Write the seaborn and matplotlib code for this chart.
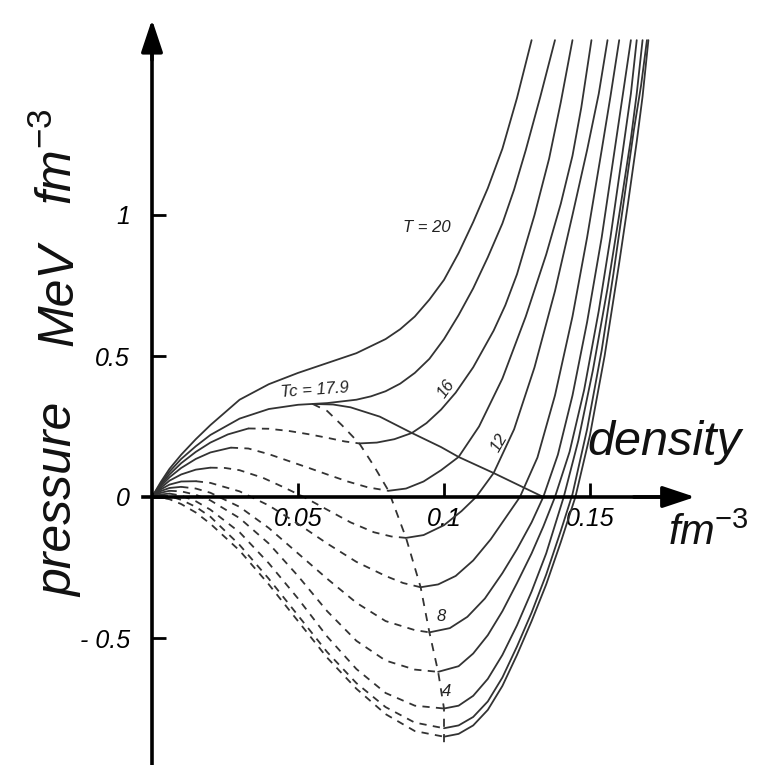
import matplotlib
matplotlib.use("Agg")
import matplotlib.pyplot as plt
import pandas as pd
import seaborn as sns

# ---------------- data (density fm^-3, pressure MeV fm^-3) ----------------
rho_T20 = [0, 0.003, 0.006, 0.01, 0.015, 0.02, 0.03, 0.04, 0.05, 0.06, 0.07, 0.08, 0.085, 0.09, 0.095, 0.10, 0.105, 0.11, 0.115, 0.12, 0.125, 0.13]
p_T20 = [0, 0.053, 0.10, 0.15, 0.205, 0.255, 0.345, 0.40, 0.44, 0.475, 0.51, 0.56, 0.595, 0.64, 0.70, 0.77, 0.865, 0.975, 1.095, 1.235, 1.415, 1.62]

rho_T18 = [0, 0.003, 0.006, 0.01, 0.015, 0.02, 0.03, 0.04, 0.05, 0.055, 0.06, 0.07, 0.075, 0.08, 0.085, 0.09, 0.095, 0.10, 0.105, 0.11, 0.115, 0.12, 0.124, 0.128, 0.133, 0.138]
p_T18 = [0, 0.048, 0.09, 0.135, 0.18, 0.22, 0.278, 0.312, 0.327, 0.33, 0.333, 0.345, 0.357, 0.375, 0.402, 0.44, 0.49, 0.56, 0.645, 0.74, 0.85, 0.97, 1.09, 1.23, 1.42, 1.62]

rho_T16 = [0, 0.003, 0.006, 0.01, 0.015, 0.02, 0.026, 0.033, 0.04, 0.047, 0.054, 0.06, 0.066, 0.071, 0.077, 0.083, 0.089, 0.094, 0.099, 0.104, 0.11, 0.117, 0.121, 0.125, 0.131, 0.136, 0.14, 0.144]
p_T16 = [0, 0.043, 0.08, 0.12, 0.16, 0.193, 0.222, 0.243, 0.242, 0.234, 0.222, 0.21, 0.197, 0.19, 0.193, 0.205, 0.227, 0.262, 0.31, 0.37, 0.46, 0.59, 0.68, 0.79, 1.0, 1.2, 1.4, 1.62]

rho_T14 = [0, 0.003, 0.006, 0.01, 0.015, 0.02, 0.027, 0.033, 0.04, 0.047, 0.054, 0.06, 0.067, 0.074, 0.081, 0.087, 0.093, 0.099, 0.105, 0.112, 0.12, 0.128, 0.135, 0.14, 0.144, 0.147, 0.1505]
p_T14 = [0, 0.038, 0.07, 0.103, 0.135, 0.158, 0.175, 0.172, 0.152, 0.127, 0.102, 0.08, 0.055, 0.034, 0.022, 0.03, 0.055, 0.095, 0.142, 0.25, 0.42, 0.64, 0.86, 1.04, 1.21, 1.38, 1.62]

rho_T12 = [0, 0.003, 0.006, 0.01, 0.015, 0.02, 0.025, 0.03, 0.038, 0.045, 0.052, 0.06, 0.068, 0.076, 0.082, 0.087, 0.093, 0.1, 0.106, 0.111, 0.117, 0.124, 0.131, 0.138, 0.144, 0.149, 0.153, 0.156]
p_T12 = [0, 0.032, 0.058, 0.08, 0.097, 0.104, 0.103, 0.095, 0.068, 0.035, 0.0, -0.045, -0.09, -0.125, -0.14, -0.145, -0.135, -0.10, -0.05, 0.0, 0.085, 0.24, 0.46, 0.73, 1.0, 1.23, 1.43, 1.62]

rho_T10 = [0, 0.003, 0.006, 0.01, 0.015, 0.02, 0.03, 0.04, 0.05, 0.06, 0.07, 0.08, 0.086, 0.092, 0.098, 0.104, 0.11, 0.116, 0.121, 0.126, 0.132, 0.138, 0.144, 0.149, 0.154, 0.157, 0.16]
p_T10 = [0, 0.027, 0.044, 0.055, 0.056, 0.05, 0.02, -0.03, -0.095, -0.165, -0.23, -0.28, -0.305, -0.32, -0.31, -0.28, -0.225, -0.15, -0.075, 0.0, 0.14, 0.36, 0.64, 0.92, 1.23, 1.42, 1.62]

rho_T8 = [0, 0.003, 0.006, 0.01, 0.015, 0.02, 0.03, 0.04, 0.05, 0.06, 0.07, 0.08, 0.09, 0.095, 0.102, 0.108, 0.114, 0.12, 0.125, 0.13, 0.134, 0.139, 0.144, 0.149, 0.154, 0.158, 0.161, 0.164]
p_T8 = [0, 0.021, 0.032, 0.036, 0.03, 0.015, -0.035, -0.11, -0.20, -0.29, -0.375, -0.44, -0.472, -0.48, -0.465, -0.425, -0.36, -0.27, -0.185, -0.09, 0.0, 0.15, 0.36, 0.62, 0.92, 1.20, 1.41, 1.62]

rho_T6 = [0, 0.003, 0.006, 0.01, 0.015, 0.02, 0.03, 0.04, 0.05, 0.06, 0.07, 0.08, 0.09, 0.098, 0.105, 0.11, 0.115, 0.12, 0.125, 0.13, 0.134, 0.138, 0.143, 0.148, 0.153, 0.157, 0.161, 0.164, 0.166]
p_T6 = [0, 0.015, 0.022, 0.02, 0.008, -0.012, -0.075, -0.165, -0.28, -0.405, -0.51, -0.58, -0.612, -0.62, -0.60, -0.555, -0.49, -0.405, -0.305, -0.20, -0.105, 0.0, 0.16, 0.38, 0.66, 0.92, 1.21, 1.43, 1.62]

rho_T4 = [0, 0.003, 0.006, 0.01, 0.015, 0.02, 0.03, 0.04, 0.05, 0.06, 0.07, 0.08, 0.09, 0.1, 0.105, 0.11, 0.115, 0.12, 0.125, 0.13, 0.135, 0.141, 0.146, 0.151, 0.156, 0.16, 0.164, 0.166, 0.168]
p_T4 = [0, 0.009, 0.012, 0.005, -0.015, -0.045, -0.125, -0.235, -0.36, -0.495, -0.61, -0.695, -0.74, -0.75, -0.74, -0.705, -0.645, -0.56, -0.455, -0.335, -0.20, 0.0, 0.2, 0.45, 0.74, 1.0, 1.27, 1.43, 1.62]

rho_T2 = [0, 0.003, 0.006, 0.01, 0.015, 0.02, 0.03, 0.04, 0.05, 0.06, 0.07, 0.08, 0.09, 0.1, 0.105, 0.11, 0.115, 0.12, 0.125, 0.13, 0.135, 0.14, 0.144, 0.149, 0.154, 0.158, 0.162, 0.165, 0.1675, 0.1695]
p_T2 = [0, 0.004, 0.003, -0.01, -0.035, -0.07, -0.17, -0.29, -0.42, -0.55, -0.66, -0.745, -0.80, -0.82, -0.81, -0.78, -0.725, -0.64, -0.53, -0.41, -0.275, -0.12, 0.01, 0.24, 0.52, 0.79, 1.08, 1.30, 1.46, 1.62]

rho_T0 = [0, 0.003, 0.006, 0.01, 0.015, 0.02, 0.03, 0.04, 0.05, 0.06, 0.07, 0.08, 0.09, 0.1, 0.105, 0.11, 0.115, 0.12, 0.125, 0.13, 0.135, 0.14, 0.145, 0.15, 0.155, 0.16, 0.163, 0.166, 0.168, 0.17]
p_T0 = [0, -0.002, -0.008, -0.025, -0.055, -0.095, -0.19, -0.31, -0.44, -0.57, -0.68, -0.77, -0.83, -0.85, -0.84, -0.81, -0.755, -0.67, -0.56, -0.44, -0.31, -0.16, 0.0, 0.22, 0.50, 0.83, 1.04, 1.26, 1.42, 1.62]

# unstable (dashed) stretch of each sub-critical isotherm: from its gas-side maximum to its minimum
loop_T = [16, 14, 12, 10, 8, 6, 4, 2, 0]
loop_rho_max = [0.033, 0.027, 0.02, 0.015, 0.01, 0.006, 0.006, 0.003, 0.0]
loop_rho_min = [0.071, 0.081, 0.087, 0.092, 0.095, 0.098, 0.1, 0.1, 0.1]

# spinodal (dashed, through the minima) and coexistence line (solid) from the critical point
spin_rho = [0.055, 0.06, 0.065, 0.071, 0.076, 0.081, 0.087, 0.092, 0.095, 0.098, 0.1, 0.1, 0.1, 0.1]
spin_p = [0.33, 0.305, 0.255, 0.19, 0.11, 0.022, -0.145, -0.32, -0.48, -0.62, -0.75, -0.82, -0.85, -0.88]
bin_rho = [0.055, 0.062, 0.068, 0.078, 0.089, 0.099, 0.105, 0.117, 0.126, 0.134]
bin_p = [0.33, 0.328, 0.318, 0.285, 0.227, 0.177, 0.142, 0.085, 0.04, 0.0]

x_ticks = [0.05, 0.1, 0.15]
x_ticklabels = ["0.05", "0.1", "0.15"]
y_ticks = [-0.5, 0, 0.5, 1]
y_ticklabels = ["- 0.5", "0", "0.5", "1"]

curves = [(20, rho_T20, p_T20), (18, rho_T18, p_T18), (16, rho_T16, p_T16),
          (14, rho_T14, p_T14), (12, rho_T12, p_T12), (10, rho_T10, p_T10),
          (8, rho_T8, p_T8), (6, rho_T6, p_T6), (4, rho_T4, p_T4),
          (2, rho_T2, p_T2), (0, rho_T0, p_T0)]

# ---------------- build long table of line segments ----------------
rows = []
seg_id = [0]


def add_segment(xs, ys, kind):
    if len(xs) < 2:
        return
    for a, b in zip(xs, ys):
        rows.append((a, b, seg_id[0], kind))
    seg_id[0] += 1


for T, xs, ys in curves:
    if T in loop_T:
        i = loop_T.index(T)
        lo, hi = loop_rho_max[i], loop_rho_min[i]
        gas = [(a, b) for a, b in zip(xs, ys) if a <= lo]
        mid = [(a, b) for a, b in zip(xs, ys) if lo <= a <= hi]
        liq = [(a, b) for a, b in zip(xs, ys) if a >= hi]
        for part, kind in ((gas, "solid"), (mid, "dashed"), (liq, "solid")):
            add_segment([p[0] for p in part], [p[1] for p in part], kind)
    else:
        add_segment(xs, ys, "solid")

add_segment(spin_rho, spin_p, "spinodal")
add_segment(bin_rho, bin_p, "solid")

df = pd.DataFrame(rows, columns=["density", "pressure", "seg", "kind"])

# ---------------- figure ----------------
sns.set_theme(style="ticks")
plt.rcParams["font.family"] = ["Liberation Sans", "DejaVu Sans"]
plt.rcParams["mathtext.fontset"] = "custom"
plt.rcParams["mathtext.rm"] = "Liberation Sans"
plt.rcParams["mathtext.it"] = "Liberation Sans:italic"
plt.rcParams["mathtext.default"] = "it"

fig = plt.figure(figsize=(7.71, 7.65), dpi=100)
ax = fig.add_axes([0, 0, 1, 1])
ax.set_facecolor("white")

line_col = "#333333"
sns.lineplot(data=df, x="density", y="pressure", units="seg", style="kind",
             dashes={"solid": "", "dashed": (4, 3.5), "spinodal": (4.5, 4)},
             estimator=None, sort=False, color=line_col, linewidth=1.3,
             legend=False, ax=ax)

ax.set_xlim(-152 / 2920, 619 / 2920)
ax.set_ylim(-268 / 282, 497 / 282)

# axes through the origin
for s in ("top", "right"):
    ax.spines[s].set_visible(False)
ax.spines["left"].set_position(("data", 0))
ax.spines["bottom"].set_position(("data", 0))
ax.spines["left"].set_linewidth(2.6)
ax.spines["bottom"].set_linewidth(2.6)
ax.spines["left"].set_color("black")
ax.spines["bottom"].set_color("black")
ax.spines["left"].set_bounds(-0.96, 1.62)
ax.spines["bottom"].set_bounds(-0.003, 0.178)

ax.annotate("", xy=(0, 1.693), xytext=(0, 1.55),
            arrowprops=dict(arrowstyle="-|>,head_length=0.9,head_width=0.3",
                            color="black", lw=2.6, mutation_scale=22,
                            shrinkA=0, shrinkB=0))
ax.annotate("", xy=(0.186, 0), xytext=(0.165, 0),
            arrowprops=dict(arrowstyle="-|>,head_length=0.9,head_width=0.3",
                            color="black", lw=2.6, mutation_scale=22,
                            shrinkA=0, shrinkB=0))

ax.set_xticks(x_ticks)
ax.set_xticklabels(x_ticklabels, fontsize=18, style="italic")
ax.set_yticks(y_ticks)
ax.set_yticklabels(y_ticklabels, fontsize=18, style="italic")
ax.tick_params(axis="x", direction="in", length=10, width=2, pad=7, colors="black")
ax.tick_params(axis="y", direction="in", length=10, width=2, pad=16, colors="black")
ax.set_xlabel("")
ax.set_ylabel("")

# axis titles
ax.text(-0.0274, -0.0106, "pressure", rotation=90, rotation_mode="anchor",
        ha="center", va="baseline", fontsize=36, style="italic", color="#111111")
ax.text(-0.0274, 0.716, "MeV", rotation=90, rotation_mode="anchor",
        ha="center", va="baseline", fontsize=36, style="italic", color="#111111")
ax.text(-0.0274, 1.035, r"fm$^{-3}$", rotation=90, rotation_mode="anchor",
        ha="left", va="baseline", fontsize=36, style="italic", color="#111111")
ax.text(0.1755, 0.149, "density", ha="center", va="baseline",
        fontsize=35, style="italic", color="#111111")
ax.text(0.1767, -0.170, r"fm$^{-3}$", ha="left", va="baseline",
        fontsize=30, style="italic", color="#111111")

# isotherm labels
lab_kw = dict(fontsize=12, style="italic", color="#222222", ha="center", va="center")
ax.text(0.0942, 0.957, "T = 20", **lab_kw)
ax.text(0.0558, 0.379, "Tc = 17.9", rotation=4, **lab_kw)
ax.text(0.1007, 0.383, "16", rotation=55, **lab_kw)
ax.text(0.119, 0.191, "12", rotation=60, **lab_kw)
ax.text(0.099, -0.425, "8", **lab_kw)
ax.text(0.101, -0.69, "4", **lab_kw)

fig.savefig("out.png", dpi=100, facecolor="white")
